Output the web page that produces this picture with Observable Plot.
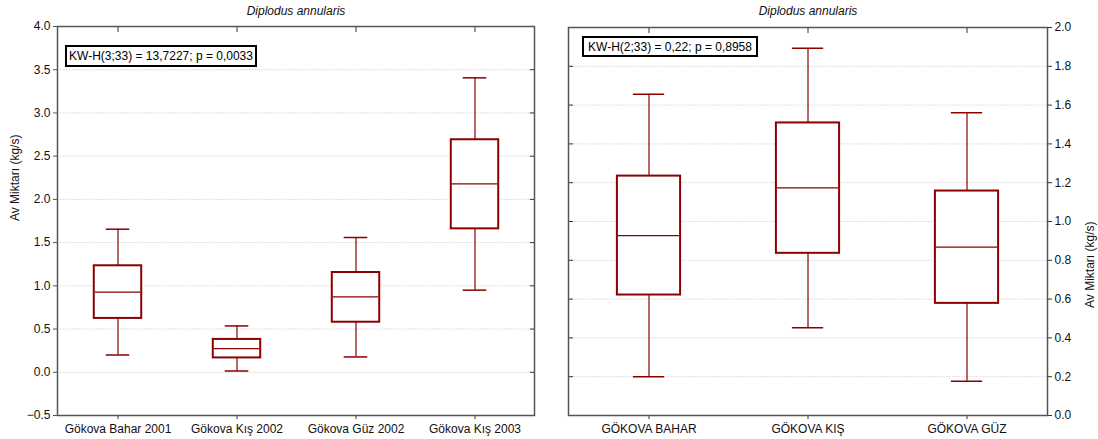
<!DOCTYPE html>
<html>
<head>
<meta charset="utf-8">
<script src="https://cdn.jsdelivr.net/npm/d3@7"></script>
<script src="https://cdn.jsdelivr.net/npm/@observablehq/plot@0.6"></script>
<style>
  body { margin: 0; background: #fff; }
  #wrap { position: relative; width: 1098px; height: 439px; font-family: "Liberation Sans", Arial, sans-serif; }
  .panel { position: absolute; top: 0; }
  .kw { position: absolute; border: 2px solid #000; box-sizing: border-box; background: #fff;
        font-family: "Liberation Sans", Arial, sans-serif; font-size: 12px; color: #000;
        display: flex; align-items: center; justify-content: center; white-space: nowrap; }
</style>
</head>
<body>
<div id="wrap">
  <div id="left" class="panel" style="left:0px"></div>
  <div id="right" class="panel" style="left:548px"></div>
  <div class="kw" style="left:65px; top:45px; width:192px; height:22px;">KW-H(3;33) = 13,7227; p = 0,0033</div>
  <div class="kw" style="left:582px; top:36px; width:176px; height:21px;">KW-H(2;33) = 0,22; p = 0,8958</div>
</div>
<script>
const title = "Diplodus annularis";
const yLabel = "Av Miktarı (kg/s)";

// Left panel data
const leftCats = ["Gökova Bahar 2001", "Gökova Kış 2002", "Gökova Güz 2002", "Gökova Kış 2003"];
const leftMin = [0.20, 0.015, 0.177, 0.95];
const leftQ1  = [0.623, 0.166, 0.579, 1.659];
const leftMed = [0.927, 0.274, 0.872, 2.18];
const leftQ3  = [1.232, 0.38, 1.154, 2.69];
const leftMax = [1.655, 0.536, 1.559, 3.406];
const leftTicks = [-0.5, 0.0, 0.5, 1.0, 1.5, 2.0, 2.5, 3.0, 3.5, 4.0];

// Right panel data
const rightCats = ["GÖKOVA BAHAR", "GÖKOVA KIŞ", "GÖKOVA GÜZ"];
const rightMin = [0.20, 0.452, 0.177];
const rightQ1  = [0.621, 0.836, 0.578];
const rightMed = [0.927, 1.173, 0.868];
const rightQ3  = [1.234, 1.508, 1.157];
const rightMax = [1.656, 1.893, 1.56];
const rightTicks = [0.0, 0.2, 0.4, 0.6, 0.8, 1.0, 1.2, 1.4, 1.6, 1.8, 2.0];

const red = "#8b0000";
const fmt = d3.format(".1f");

function rows(cats, mn, q1, md, q3, mx) {
  return cats.map((c, i) => ({cat: c, min: mn[i], q1: q1[i], med: md[i], q3: q3[i], max: mx[i]}));
}

function boxMarks(data, bandwidth) {
  const inset = bandwidth * 0.3;
  const capInset = bandwidth * 0.4;
  return [
    Plot.ruleX(data, {x: "cat", y1: "min", y2: "max", stroke: red, strokeWidth: 1.2}),
    Plot.barY(data, {x: "cat", y1: "q1", y2: "q3", fill: "white", stroke: red, strokeWidth: 2, insetLeft: inset, insetRight: inset}),
    Plot.tickY(data, {x: "cat", y: "med", stroke: red, strokeWidth: 1.2, insetLeft: inset + 1, insetRight: inset + 1}),
    Plot.tickY(data, {x: "cat", y: "min", stroke: red, strokeWidth: 1.5, insetLeft: capInset, insetRight: capInset}),
    Plot.tickY(data, {x: "cat", y: "max", stroke: red, strokeWidth: 1.5, insetLeft: capInset, insetRight: capInset})
  ];
}

const style = {fontFamily: "'Liberation Sans', Arial, sans-serif", fontSize: "12px", color: "#111", background: "#fff", overflow: "visible"};
const gridOpts = {stroke: "#d4d4d4", strokeOpacity: 1, strokeDasharray: "1.5,1.5"};

// LEFT
{
  const width = 548, mL = 57, mR = 14;
  const bw = (width - mL - mR) / leftCats.length;
  const data = rows(leftCats, leftMin, leftQ1, leftMed, leftQ3, leftMax);
  const chart = Plot.plot({
    width, height: 439, marginLeft: mL, marginRight: mR, marginTop: 26, marginBottom: 24,
    style,
    x: {type: "band", domain: leftCats, padding: 0, label: null},
    y: {domain: [-0.5, 4.0], label: null},
    marks: [
      Plot.gridY(leftTicks, gridOpts),
      Plot.axisY(leftTicks, {anchor: "left", tickSize: 4, tickPadding: 3, tickFormat: fmt, label: null, stroke: "#555"}),
      Plot.axisY(leftTicks, {anchor: "right", tickSize: -5, tickFormat: () => "", label: null, stroke: "#333"}),
      Plot.axisX({anchor: "bottom", tickSize: 4, tickPadding: 5, label: null, stroke: "#333"}),
      Plot.axisX({anchor: "top", tickSize: -5, tickFormat: () => "", label: null, stroke: "#333"}),
      ...boxMarks(data, bw),
      Plot.frame({stroke: "#555", strokeWidth: 1.5}),
      Plot.text([title], {frameAnchor: "top", dy: -15, lineAnchor: "middle", fontStyle: "italic", fontSize: 12, fill: "#111"}),
      Plot.text([yLabel], {frameAnchor: "left", dx: -42, rotate: -90, fontSize: 12, fill: "#111"})
    ]
  });
  document.getElementById("left").append(chart);
}

// RIGHT
{
  const width = 549, mL = 20, mR = 50;
  const bw = (width - mL - mR) / rightCats.length;
  const data = rows(rightCats, rightMin, rightQ1, rightMed, rightQ3, rightMax);
  const chart = Plot.plot({
    width, height: 439, marginLeft: mL, marginRight: mR, marginTop: 27, marginBottom: 24,
    style,
    x: {type: "band", domain: rightCats, padding: 0, label: null},
    y: {domain: [0, 2.0], label: null},
    marks: [
      Plot.gridY(rightTicks, gridOpts),
      Plot.axisY(rightTicks, {anchor: "right", tickSize: 4, tickPadding: 3, tickFormat: fmt, label: null, stroke: "#333"}),
      Plot.axisY(rightTicks, {anchor: "left", tickSize: -5, tickFormat: () => "", label: null, stroke: "#333"}),
      Plot.axisX({anchor: "bottom", tickSize: 4, tickPadding: 5, label: null, stroke: "#333"}),
      Plot.axisX({anchor: "top", tickSize: -5, tickFormat: () => "", label: null, stroke: "#333"}),
      ...boxMarks(data, bw),
      Plot.frame({stroke: "#555", strokeWidth: 1.5}),
      Plot.text([title], {frameAnchor: "top", dy: -16, lineAnchor: "middle", fontStyle: "italic", fontSize: 12, fill: "#111"}),
      Plot.text([yLabel], {frameAnchor: "right", dx: 43, rotate: -90, fontSize: 12, fill: "#111"})
    ]
  });
  document.getElementById("right").append(chart);
}
</script>
</body>
</html>
